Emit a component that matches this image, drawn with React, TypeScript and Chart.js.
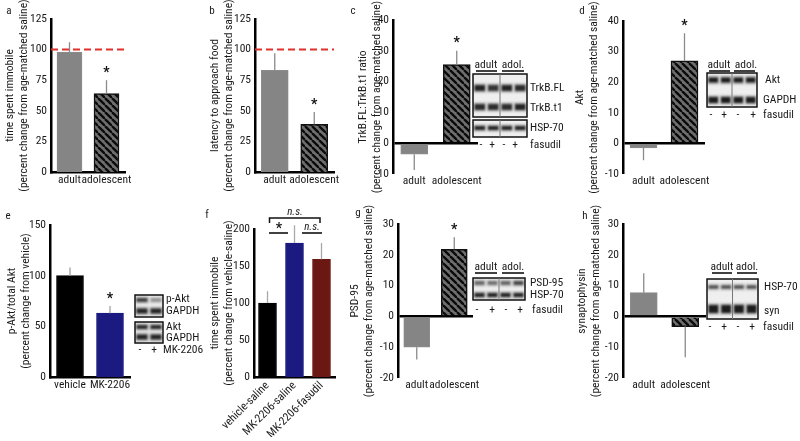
import React, { useEffect, useRef } from "react";
import { Chart, registerables } from "chart.js";

Chart.register(...registerables);

// ---------- data ----------
const ageCategories = ["adult", "adolescent"];
const ageStars = ["", "*"];
const noStars = ["", ""];

const immobilityValues = [98, 64]; // a
const immobilitySem = [8, 11];
const latencyValues = [83, 39]; // b
const latencySem = [14, 10];
const trkbValues = [-3.6, 25.5]; // c
const trkbSem = [5.1, 4.5];
const aktValues = [-1.5, 27]; // d
const aktSem = [4, 9];

const mkCategories = ["vehicle", "MK-2206"]; // e
const pAktValues = [100, 63];
const pAktSem = [8, 7];

const fCategories = ["vehicle-saline", "MK-2206-saline", "MK-2206-fasudil"]; // f
const fImmobileValues = [100, 181, 159];
const fImmobileSem = [16, 24, 22];

const psdValues = [-10, 21.8]; // g
const psdSem = [4, 3.9];
const synValues = [7.7, -3.3]; // h
const synSem = [6.3, 10];

const pctTicks = { min: 0, max: 125, step: 25 };
const smallPctTicks = { min: -10, max: 40, step: 10 };
const pAktTicks = { min: 0, max: 150, step: 50 };
const fTicks = { min: 0, max: 200, step: 50 };
const synTicks = { min: -20, max: 30, step: 10 };

const laneMarks = ["-", "+", "-", "+"];

// ---------- font selection ----------
function hasFont(name: string): boolean {
  const c = document.createElement("canvas").getContext("2d");
  if (!c) return false;
  const s = "abcdefghijklmnopqrstuvwxyz0123456789ABCDEF";
  for (const base of ["monospace", "serif"]) {
    c.font = `20px ${base}`;
    const w1 = c.measureText(s).width;
    c.font = `20px '${name}', ${base}`;
    const w2 = c.measureText(s).width;
    if (Math.abs(w1 - w2) > 0.01) return true;
  }
  return false;
}
let FONT = "'Liberation Sans', Arial, sans-serif";
let LS = "-0.85px";
let FS = 11;
(() => {
  for (const n of ["Liberation Sans Narrow", "Arial Narrow", "Roboto Condensed", "Open Sans Condensed"]) {
    if (hasFont(n)) {
      FONT = `'${n}', 'Liberation Sans', Arial, sans-serif`;
      LS = "0px";
      FS = 11.5;
      return;
    }
  }
})();
const TXT = "#1a1a1a";

// ---------- drawing helpers ----------
function text(ctx: any, s: string, x: number, y: number, align: any = "left", size = FS, style = "") {
  ctx.font = `${style} ${size}px ${FONT}`.trim();
  ctx.fillStyle = TXT;
  ctx.textAlign = align;
  ctx.textBaseline = "middle";
  ctx.fillText(s, x, y);
}
function hline(ctx: any, x1: number, x2: number, y: number, w = 1.5, c = "#111") {
  ctx.save();
  ctx.strokeStyle = c;
  ctx.lineWidth = w;
  ctx.beginPath();
  ctx.moveTo(x1, y);
  ctx.lineTo(x2, y);
  ctx.stroke();
  ctx.restore();
}
function letter(ctx: any, s: string, x: number, y: number) {
  text(ctx, s, x, y, "center", 11);
}
function header(ctx: any, y: number, aLine: number[], aX: number, bLine: number[], bX: number) {
  text(ctx, "adult", aX, y, "center");
  hline(ctx, aLine[0], aLine[1], y + 6, 1.6);
  text(ctx, "adol.", bX, y, "center");
  hline(ctx, bLine[0], bLine[1], y + 6, 1.6);
}
function marks(ctx: any, xs: number[], y: number, labels: string[]) {
  xs.forEach((x, i) => text(ctx, labels[i], x, y, "center"));
}
function blot(ctx: any, x: number, y: number, w: number, h: number, lanes: number, bands: any[], divider: boolean) {
  ctx.save();
  ctx.fillStyle = "#efefef";
  ctx.fillRect(x, y, w, h);
  ctx.beginPath();
  ctx.rect(x, y, w, h);
  ctx.clip();
  ctx.filter = "blur(0.9px)";
  const lw = w / lanes;
  for (const b of bands) {
    const [cy, th, al] = b;
    for (let i = 0; i < lanes; i++) {
      const a = al[i] ?? al[0];
      ctx.fillStyle = `rgba(12,12,12,${a})`;
      ctx.fillRect(x + lw * i + 1.5, cy - th / 2, lw - 3, th);
      ctx.fillStyle = `rgba(40,40,40,${a * 0.25})`;
      ctx.fillRect(x + lw * i + 0.5, cy - th / 2 - 2, lw - 1, th + 4);
    }
  }
  ctx.filter = "none";
  ctx.restore();
  ctx.save();
  ctx.strokeStyle = "#111";
  ctx.lineWidth = 1.5;
  ctx.strokeRect(x, y, w, h);
  if (divider) {
    ctx.strokeStyle = "#777";
    ctx.lineWidth = 1;
    ctx.beginPath();
    ctx.moveTo(x + w / 2, y);
    ctx.lineTo(x + w / 2, y + h);
    ctx.stroke();
  }
  ctx.restore();
}

function makeHatch(): any {
  const s = 7;
  const c = document.createElement("canvas");
  c.width = s;
  c.height = s;
  const g = c.getContext("2d");
  if (!g) return "#555";
  g.fillStyle = "#6e6e6e";
  g.fillRect(0, 0, s, s);
  g.strokeStyle = "#0a0a0a";
  g.lineWidth = 2.3;
  for (const o of [-s, 0, s]) {
    g.beginPath();
    g.moveTo(o, 0);
    g.lineTo(o + s, s);
    g.stroke();
  }
  return g.createPattern(c, "repeat") ?? "#555";
}

const saline = "(percent change from age-matched saline)";

const panels: any[] = [
  {
    id: "a", box: [0, 0, 200, 220], area: [51, 19, 125, 172],
    cats: ageCategories, values: immobilityValues, errors: immobilitySem, stars: ageStars,
    fills: ["gray", "hatch"], ticks: pctTicks, title: ["time spent immobile", saline], titleX: 10,
    zeroLine: false, refLine: 100, barW: 25, xPad: 1, xH: 22, errColor: "#8a8a8a",
    decor: (ctx: any) => letter(ctx, "a", 9, 11),
  },
  {
    id: "b", box: [200, 0, 145, 220], area: [255, 19, 334, 172],
    cats: ageCategories, values: latencyValues, errors: latencySem, stars: ageStars,
    fills: ["gray", "hatch"], ticks: pctTicks, title: ["latency to approach food", saline], titleX: 215,
    zeroLine: false, refLine: 100, barW: 27, xPad: 1, xH: 22, errColor: "#8a8a8a",
    decor: (ctx: any) => letter(ctx, "b", 212, 11),
  },
  {
    id: "c", box: [345, 0, 225, 220], area: [393, 20, 478, 174],
    cats: ageCategories, values: trkbValues, errors: trkbSem, stars: ageStars,
    fills: ["gray", "hatch"], ticks: smallPctTicks, title: ["TrkB.FL:TrkB.t1 ratio", saline], titleX: 363,
    zeroLine: true, barW: 27, xPad: 0, xH: 20, errColor: "#8a8a8a",
    decor: (ctx: any) => {
      letter(ctx, "c", 353, 11);
      header(ctx, 65, [476, 497], 486, [502, 524], 513);
      blot(ctx, 473, 74, 54, 43, 4, [[88, 6, [0.9, 0.8, 0.9, 0.85]], [107, 6, [0.85, 0.85, 0.85, 0.9]]], true);
      blot(ctx, 473, 120, 54, 17, 4, [[128, 4, [0.9, 0.9, 0.9, 0.9]]], true);
      text(ctx, "TrkB.FL", 530, 88);
      text(ctx, "TrkB.t1", 530, 108);
      text(ctx, "HSP-70", 530, 128);
      marks(ctx, [481, 492, 504, 515], 145, laneMarks);
      text(ctx, "fasudil", 530, 145);
    },
  },
  {
    id: "d", box: [570, 0, 230, 220], area: [623, 21, 705, 174],
    cats: ageCategories, values: aktValues, errors: aktSem, stars: ageStars,
    fills: ["gray", "hatch"], ticks: smallPctTicks, title: ["Akt", saline], titleX: 580,
    zeroLine: true, barW: 27, xPad: 0, xH: 20, errColor: "#8a8a8a",
    decor: (ctx: any) => {
      letter(ctx, "d", 582, 11);
      header(ctx, 65, [709, 730], 719, [734, 755], 746);
      blot(ctx, 707, 73, 50, 34, 4, [[80, 5, [0.95]], [100, 6, [0.95]]], true);
      text(ctx, "Akt", 765, 80);
      text(ctx, "GAPDH", 763, 100);
      marks(ctx, [711, 724, 738, 753], 115, laneMarks);
      text(ctx, "fasudil", 763, 115);
    },
  },
  {
    id: "e", box: [0, 200, 215, 241], area: [50, 225, 130, 377],
    cats: mkCategories, values: pAktValues, errors: pAktSem, stars: ["", "*"],
    fills: ["#000000", "#1b1a80"], ticks: pAktTicks, title: ["p-Akt/total Akt", "(percent change from vehicle)"], titleX: 12,
    zeroLine: false, barW: 27, xPad: 1, xH: 22, errColor: "#a0a0a0",
    decor: (ctx: any) => {
      letter(ctx, "e", 8, 216);
      blot(ctx, 135, 295, 28, 22, 2, [[300, 4, [0.75, 0.35]], [311, 5, [0.9, 0.9]]], false);
      blot(ctx, 135, 322, 28, 21, 2, [[327, 4, [0.85, 0.85]], [337, 5, [0.9, 0.9]]], false);
      text(ctx, "p-Akt", 166, 299);
      text(ctx, "GAPDH", 166, 311);
      text(ctx, "Akt", 166, 327);
      text(ctx, "GAPDH", 166, 338);
      marks(ctx, [140, 154], 350, ["-", "+"]);
      text(ctx, "MK-2206", 163, 350);
    },
  },
  {
    id: "f", box: [200, 200, 145, 241], area: [254, 229, 335, 377],
    cats: fCategories, values: fImmobileValues, errors: fImmobileSem, stars: ["", "", ""],
    fills: ["#000000", "#1b1a80", "#6b1812"], ticks: fTicks, title: ["time spent immobile", "(percent change from vehicle-saline)"], titleX: 215,
    zeroLine: false, rotate: true, barW: 18, xPad: 2, xH: 60, errColor: "#a8a8a8",
    decor: (ctx: any) => {
      letter(ctx, "f", 207, 215);
      ctx.save();
      ctx.strokeStyle = "#111";
      ctx.lineWidth = 1.5;
      ctx.beginPath();
      ctx.moveTo(269.5, 223);
      ctx.lineTo(269.5, 218);
      ctx.lineTo(320, 218);
      ctx.lineTo(320, 223);
      ctx.stroke();
      ctx.restore();
      text(ctx, "n.s.", 295, 212, "center", FS - 0.5, "italic");
      hline(ctx, 269, 288, 233, 1.6);
      text(ctx, "*", 279, 229, "center", 14, "bold");
      hline(ctx, 302, 322, 233, 1.6);
      text(ctx, "n.s.", 312, 227, "center", FS - 0.5, "italic");
    },
  },
  {
    id: "g", box: [345, 200, 225, 241], area: [398, 224, 473, 378],
    cats: ageCategories, values: psdValues, errors: psdSem, stars: ageStars,
    fills: ["gray", "hatch"], ticks: synTicks, title: ["PSD-95", saline], titleX: 355,
    zeroLine: true, barW: 26, xPad: 0, xH: 22, errColor: "#8a8a8a",
    decor: (ctx: any) => {
      letter(ctx, "g", 358, 213);
      header(ctx, 267, [475, 497], 486, [502, 524], 513);
      blot(ctx, 473, 278, 52, 22, 4, [[283, 4, [0.55, 0.5, 0.55, 0.7]], [295, 4, [0.9, 0.9, 0.9, 0.9]]], true);
      text(ctx, "PSD-95", 530, 283);
      text(ctx, "HSP-70", 530, 295);
      marks(ctx, [477, 492, 506, 520], 310, laneMarks);
      text(ctx, "fasudil", 532, 310);
    },
  },
  {
    id: "h", box: [570, 200, 230, 241], area: [623, 224, 706, 378],
    cats: ageCategories, values: synValues, errors: synSem, stars: noStars,
    fills: ["gray", "hatch"], ticks: synTicks, title: ["synaptophysin", saline], titleX: 582,
    zeroLine: true, barW: 27, xPad: 0, xH: 22, errColor: "#8a8a8a",
    decor: (ctx: any) => {
      letter(ctx, "h", 585, 216);
      header(ctx, 267, [712, 732], 722, [737, 757], 747);
      blot(ctx, 707, 279, 51, 40, 4, [[287, 3, [0.75]], [309, 8, [0.95]]], true);
      text(ctx, "HSP-70", 764, 287);
      text(ctx, "syn", 764, 311);
      marks(ctx, [710, 724, 738, 752], 327, laneMarks);
      text(ctx, "fasudil", 763, 327);
    },
  },
];

function PanelChart({ p }: { p: any }) {
  const ref = useRef<HTMLCanvasElement>(null);
  useEffect(() => {
    const canvas = ref.current;
    if (!canvas) return;
    const [bx, by, bw, bh] = p.box;
    const [al, at, ar, ab] = p.area;
    const hatch = makeHatch();
    const bg = p.fills.map((f: string) => (f === "hatch" ? hatch : f === "gray" ? "#858585" : f));
    const bc = p.fills.map((f: string) => (f === "hatch" ? "#111" : f === "gray" ? "#8c8c8c" : f));
    const bwid = p.fills.map((f: string) => (f === "hatch" ? 1.5 : 1));
    const font = { family: FONT, size: FS };
    const lh = FS * 1.2;

    const deco = {
      id: "deco",
      beforeUpdate(chart: any) {
        chart.ctx.letterSpacing = LS;
      },
      beforeDraw(chart: any) {
        chart.ctx.letterSpacing = LS;
      },
      afterDatasetsDraw(chart: any) {
        const ctx = chart.ctx;
        const ys = chart.scales.y;
        const meta = chart.getDatasetMeta(0);
        ctx.save();
        if (p.refLine !== undefined) {
          const yy = ys.getPixelForValue(p.refLine);
          ctx.strokeStyle = "#e0302c";
          ctx.lineWidth = 2;
          ctx.setLineDash([7, 4]);
          ctx.beginPath();
          ctx.moveTo(chart.chartArea.left, yy);
          ctx.lineTo(chart.chartArea.right, yy);
          ctx.stroke();
          ctx.setLineDash([]);
        }
        p.values.forEach((v: number, i: number) => {
          const el = meta.data[i];
          const x = el.x;
          const s = v >= 0 ? 1 : -1;
          const y0 = ys.getPixelForValue(v);
          const y1 = ys.getPixelForValue(v + s * p.errors[i]);
          ctx.strokeStyle = p.errColor;
          ctx.lineWidth = 1.3;
          ctx.beginPath();
          ctx.moveTo(x, y0);
          ctx.lineTo(x, y1);
          ctx.stroke();
          if (p.stars[i]) {
            ctx.font = `bold 14px ${FONT}`;
            ctx.fillStyle = "#111";
            ctx.textAlign = "center";
            ctx.textBaseline = "middle";
            ctx.fillText(p.stars[i], x, y1 - 7);
          }
        });
        ctx.translate(-bx, -by);
        p.decor(ctx);
        ctx.restore();
      },
    };

    const chart = new Chart(canvas, {
      type: "bar",
      data: {
        labels: p.cats,
        datasets: [
          {
            data: p.values,
            backgroundColor: bg,
            borderColor: bc,
            borderWidth: bwid,
            barThickness: p.barW,
          },
        ],
      },
      options: {
        animation: false,
        responsive: false,
        maintainAspectRatio: false,
        devicePixelRatio: 1,
        layout: {
          padding: {
            left: 0,
            top: at - by,
            right: bx + bw - ar,
            bottom: by + bh - ab - p.xH,
          },
        },
        plugins: { legend: { display: false }, tooltip: { enabled: false }, title: { display: false } },
        scales: {
          x: {
            type: "category",
            offset: true,
            grid: { display: false, drawTicks: false },
            border: { display: !p.zeroLine, color: "#000", width: 2.5 },
            ticks: {
              font,
              color: TXT,
              padding: p.xPad,
              autoSkip: false,
              maxRotation: p.rotate ? 45 : 0,
              minRotation: p.rotate ? 45 : 0,
            },
            afterFit: (s: any) => {
              s.height = p.xH;
            },
          },
          y: {
            min: p.ticks.min,
            max: p.ticks.max,
            ticks: { stepSize: p.ticks.step, font, color: TXT, padding: 4 },
            grid: {
              display: p.zeroLine,
              drawTicks: false,
              color: (c: any) => (c.tick && c.tick.value === 0 ? "#000" : "rgba(0,0,0,0)"),
              lineWidth: (c: any) => (c.tick && c.tick.value === 0 ? 2.5 : 0),
            },
            border: { color: "#000", width: 2.5 },
            title: {
              display: true,
              text: p.title,
              font,
              color: TXT,
              padding: { top: p.titleX - bx - lh / 2, bottom: 0 },
            },
            afterFit: (s: any) => {
              s.width = al - bx;
            },
          },
        },
      },
      plugins: [deco],
    } as any);
    return () => chart.destroy();
  }, [p]);
  return (
    <canvas
      ref={ref}
      width={p.box[2]}
      height={p.box[3]}
      style={{ position: "absolute", left: p.box[0], top: p.box[1], width: p.box[2], height: p.box[3] }}
    />
  );
}

export default function App() {
  return (
    <div style={{ position: "absolute", left: 0, top: 0, width: 800, height: 441, background: "#fff", overflow: "hidden" }}>
      {panels.map((p) => (
        <PanelChart key={p.id} p={p} />
      ))}
    </div>
  );
}
